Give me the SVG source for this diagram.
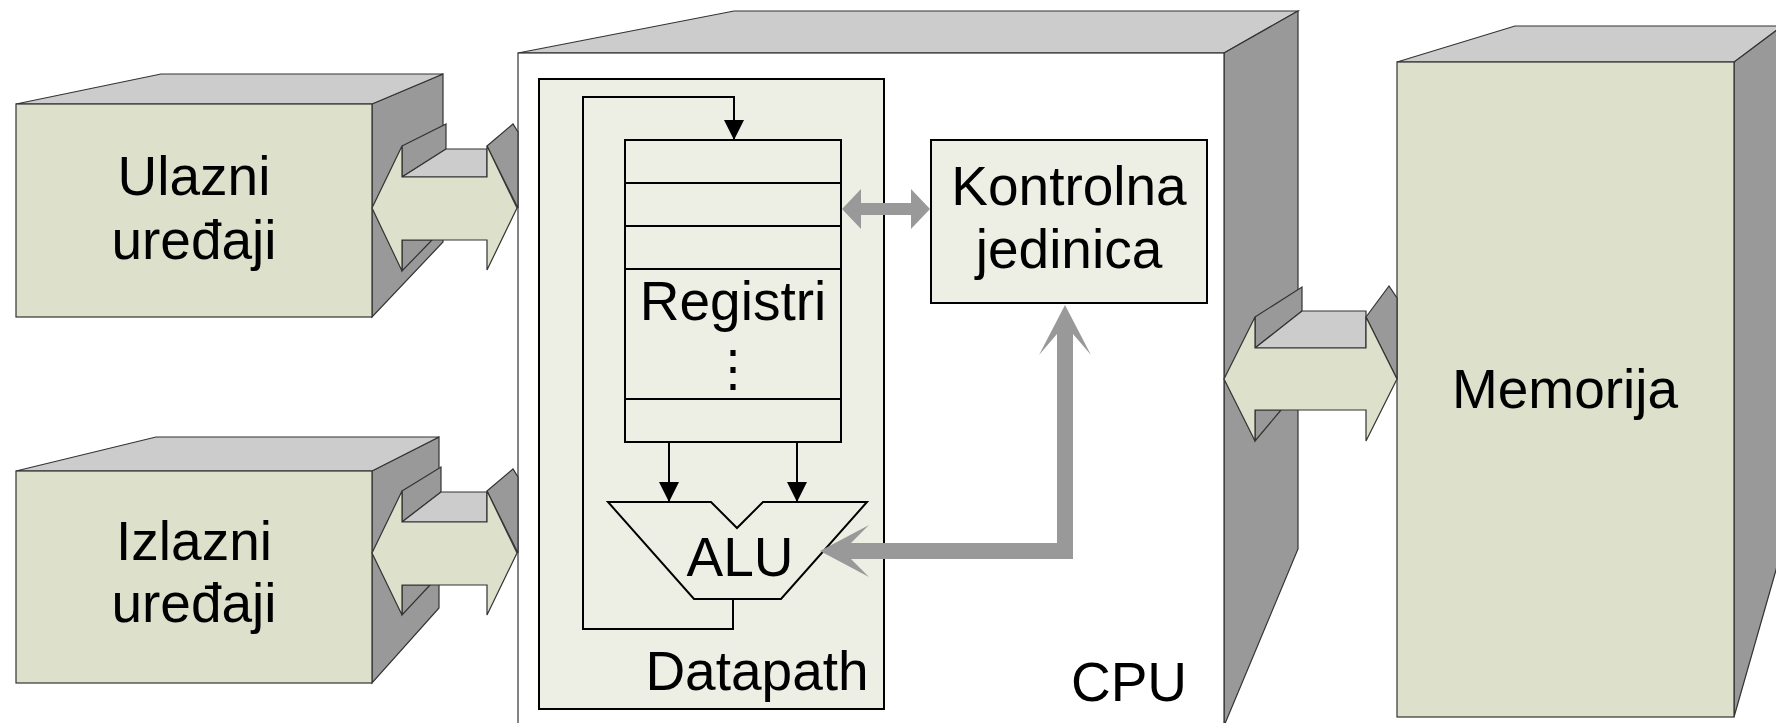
<svg xmlns="http://www.w3.org/2000/svg" width="1776" height="723" viewBox="0 0 1776 723">
<defs>
<style>
.front{fill:#dde0ca;stroke:#333;stroke-width:1.2}
.top{fill:#cccccc;stroke:#333;stroke-width:1.2}
.side{fill:#999999;stroke:#333;stroke-width:1.2}
.cpu{fill:#ffffff;stroke:#333;stroke-width:1.2}
.inner{fill:#eeefe4;stroke:#000;stroke-width:2}
.lbl{font-family:"Liberation Sans",Arial,sans-serif;font-size:55px;fill:#000;text-anchor:middle}
.wire{fill:none;stroke:#000;stroke-width:2}
.gray{fill:#999999;stroke:none}
.bus{fill:#dde0ca;stroke:#333;stroke-width:1.2}
</style>
<marker id="ah" markerUnits="userSpaceOnUse" markerWidth="20" markerHeight="20" refX="19" refY="9.5" orient="auto" viewBox="0 0 19 19">
<path d="M0,0 L19,9.5 L0,19 z" fill="#000"/>
</marker>
</defs>
<rect x="0" y="0" width="1776" height="723" fill="#ffffff"/>

<g id="ulazni">
<polygon class="side" points="372,104 443,74 443,242 372,317"/>
<polygon class="top" points="16,104 161,74 443,74 372,104"/>
<rect class="front" x="16" y="104" width="356" height="213"/>
<text class="lbl" x="194" y="195">Ulazni</text>
<text class="lbl" x="194" y="259">uređaji</text>
</g>

<g id="izlazni">
<polygon class="side" points="372,471 439,437 439,608 372,683"/>
<polygon class="top" points="16,471 156,437 439,437 372,471"/>
<rect class="front" x="16" y="471" width="356" height="212"/>
<text class="lbl" x="194" y="560">Izlazni</text>
<text class="lbl" x="194" y="622">uređaji</text>
</g>

<g id="cpu">
<polygon class="top" points="518,53 734,11 1298,11 1224,53"/>
<polygon class="side" points="1224,53 1298,11 1298,549 1224,726"/>
<rect class="cpu" x="518" y="53" width="706" height="680"/>
<text class="lbl" x="1129" y="701">CPU</text>
</g>

<g id="datapath">
<rect class="inner" x="539" y="79" width="345" height="630"/>
<text class="lbl" x="757" y="690">Datapath</text>
</g>

<g id="registri">
<rect class="inner" x="625" y="140" width="216" height="302"/>
<line class="wire" x1="625" y1="183" x2="841" y2="183"/>
<line class="wire" x1="625" y1="226" x2="841" y2="226"/>
<line class="wire" x1="625" y1="269" x2="841" y2="269"/>
<line class="wire" x1="625" y1="399" x2="841" y2="399"/>
<text class="lbl" x="733" y="320">Registri</text>
<text class="lbl" x="733" y="385" style="font-size:50px">⋮</text>
</g>

<g id="alu">
<polygon class="inner" points="608,502 711,502 737,528 763,502 867,502 781,599 694,599"/>
<text class="lbl" x="740" y="576">ALU</text>
</g>

<g id="kontrolna">
<rect class="inner" x="931" y="140" width="276" height="163"/>
<text class="lbl" x="1069" y="205">Kontrolna</text>
<text class="lbl" x="1069" y="268">jedinica</text>
</g>

<g id="memorija">
<polygon class="side" points="1734,62 1782,26 1782,549 1734,717"/>
<polygon class="top" points="1397,62 1515,26 1782,26 1734,62"/>
<rect class="front" x="1397" y="62" width="337" height="655"/>
<text class="lbl" x="1565" y="408">Memorija</text>
</g>

<g id="connectors">
<g id="bus-ulazni">
<polygon class="side" points="402,146 446,124 446,149 402,177"/>
<polygon class="top" points="402,177 446,149 487,149 487,177"/>
<polygon class="side" points="487,146 513,124 518,132 518,208"/>
<polygon class="side" points="402,240 402,271 432,240"/>
<polygon class="bus" points="372,208 402,146 402,177 487,177 487,146 517,208 487,270 487,240 402,240 402,271"/>
</g>
<g id="bus-izlazni">
<polygon class="side" points="402,491 441,467 441,492 402,522"/>
<polygon class="top" points="402,522 441,492 487,492 487,522"/>
<polygon class="side" points="487,491 513,469 518,477 518,553"/>
<polygon class="side" points="402,585 402,615 430,585"/>
<polygon class="bus" points="372,553 402,491 402,522 487,522 487,491 517,553 487,615 487,585 402,585 402,615"/>
</g>
<g id="bus-memorija">
<polygon class="side" points="1255,317 1302,287 1302,311 1255,348"/>
<polygon class="top" points="1255,348 1302,311 1366,311 1366,348"/>
<polygon class="side" points="1366,317 1389,286 1397,298 1397,379"/>
<polygon class="side" points="1255,410 1255,441 1281,410"/>
<polygon class="bus" points="1224,379 1255,317 1255,348 1366,348 1366,317 1397,379 1366,441 1366,410 1255,410 1255,441"/>
</g>
<path class="wire" d="M733,599 V629 H583 V97 H734 V140" marker-end="url(#ah)"/>
<line class="wire" x1="669" y1="442" x2="669" y2="502" marker-end="url(#ah)"/>
<line class="wire" x1="797" y1="442" x2="797" y2="502" marker-end="url(#ah)"/>
<polygon class="gray" points="842,209 861,189 861,203 911,203 911,189 930,209 911,229 911,215 861,215 861,229"/>
<polygon class="gray" points="1057,543 1057,334 1039,355 1065,305 1091,355 1073,334 1073,559 851,559 869,577 820,551 869,525 851,543"/>
</g>
</svg>
